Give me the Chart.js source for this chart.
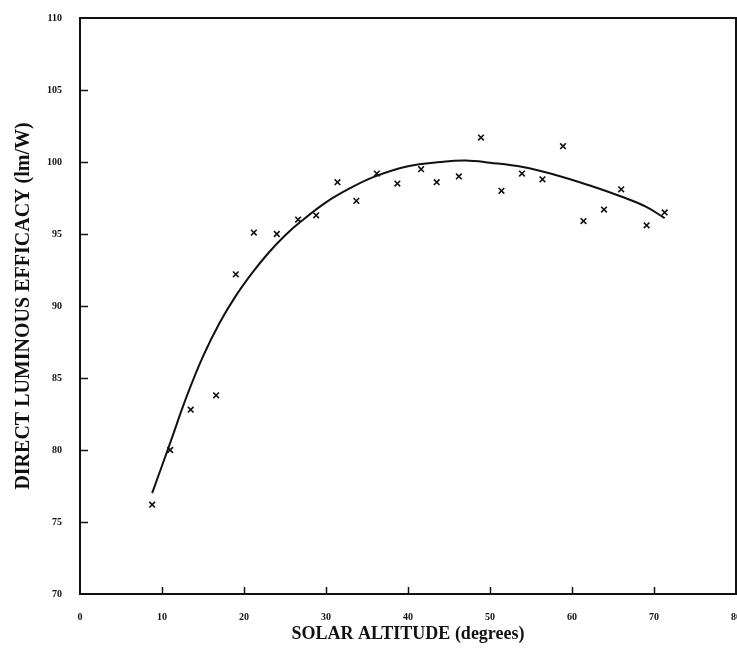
<!DOCTYPE html>
<html>
<head>
<meta charset="utf-8">
<script src="https://cdn.jsdelivr.net/npm/chart.js@4.4.1/dist/chart.umd.min.js"></script>
<style>
  html, body { margin: 0; padding: 0; background: #fff; }
  #wrap { width: 737px; height: 648px; }
</style>
</head>
<body>
<div id="wrap"><canvas id="chart"></canvas></div>
<script>
// measured points (solar altitude, efficacy)
const altitude = [8.8, 11.0, 13.5, 16.6, 19.0, 21.2, 24.0, 26.6, 28.8, 31.4, 33.7, 36.2, 38.7,
  41.6, 43.5, 46.2, 48.9, 51.4, 53.9, 56.4, 58.9, 61.4, 63.9, 66.0, 69.1, 71.3];
const efficacy = [76.2, 80.0, 82.8, 83.8, 92.2, 95.1, 95.0, 96.0, 96.3, 98.6, 97.3, 99.2, 98.5,
  99.5, 98.6, 99.0, 101.7, 98.0, 99.2, 98.8, 101.1, 95.9, 96.7, 98.1, 95.6, 96.5];

// fitted curve
const fitX = [8.8, 11, 13, 15, 17, 19, 21, 23, 25, 27, 30, 33, 36, 40, 44, 47,
  50, 54, 58, 62, 66, 69, 71.3];
const fitY = [77.0, 80.5, 83.7, 86.5, 88.8, 90.7, 92.3, 93.7, 94.9, 95.9, 97.2, 98.2, 99.0,
  99.7, 100.0, 100.1, 99.95, 99.65, 99.1, 98.4, 97.6, 96.9, 96.1];

const xTicks = [0, 10, 20, 30, 40, 50, 60, 70, 80];
const yTicks = [70, 75, 80, 85, 90, 95, 100, 105, 110];

const tickFont = { family: 'Liberation Serif', size: 10, weight: 'bold' };

// frame box + inward tick marks
const framePlugin = {
  id: 'frame',
  afterDraw(chart) {
    const { ctx, chartArea: a, scales } = chart;
    ctx.save();
    ctx.strokeStyle = '#111';
    ctx.lineWidth = 2;
    ctx.strokeRect(a.left, a.top, a.right - a.left, a.bottom - a.top);
    ctx.lineWidth = 1.5;
    ctx.beginPath();
    xTicks.slice(1, -1).forEach(v => {
      const px = Math.round(scales.x.getPixelForValue(v)) + 0.5;
      ctx.moveTo(px, a.bottom);
      ctx.lineTo(px, a.bottom - 7);
    });
    yTicks.slice(1, -1).forEach(v => {
      const py = Math.round(scales.y.getPixelForValue(v)) + 0.5;
      ctx.moveTo(a.left, py);
      ctx.lineTo(a.left + 8, py);
    });
    ctx.stroke();
    ctx.restore();
  }
};

new Chart(document.getElementById('chart'), {
  type: 'scatter',
  data: {
    datasets: [
      {
        label: 'measured',
        data: altitude.map((x, i) => ({ x: x, y: efficacy[i] })),
        pointStyle: 'crossRot',
        pointRadius: 4,
        borderColor: '#111',
        borderWidth: 1.6,
        showLine: false
      },
      {
        label: 'fit',
        data: fitX.map((x, i) => ({ x: x, y: fitY[i] })),
        showLine: true,
        borderColor: '#111',
        borderWidth: 2,
        pointRadius: 0,
        tension: 0.4
      }
    ]
  },
  options: {
    responsive: true,
    maintainAspectRatio: false,
    animation: false,
    layout: { autoPadding: false, padding: { top: 18, right: 1, left: 0, bottom: 0 } },
    plugins: { legend: { display: false }, tooltip: { enabled: false } },
    scales: {
      x: {
        type: 'linear',
        min: 0, max: 80,
        afterBuildTicks: s => { s.ticks = xTicks.map(v => ({ value: v })); },
        afterFit: s => { s.height = 54; s.paddingRight = 0; s.paddingLeft = 0; },
        grid: { display: false },
        border: { display: false },
        ticks: { color: '#111', font: tickFont, padding: 9, maxRotation: 0 },
        title: {
          display: true, text: 'SOLAR ALTITUDE (degrees)', color: '#111',
          font: { family: 'Liberation Serif', size: 18, weight: 'bold' },
          padding: { top: 0, bottom: 3 }
        }
      },
      y: {
        min: 70, max: 110,
        afterBuildTicks: s => { s.ticks = yTicks.map(v => ({ value: v })); },
        afterFit: s => { s.width = 80; },
        grid: { display: false },
        border: { display: false },
        ticks: { color: '#111', font: tickFont, padding: 10 },
        title: {
          display: true, text: 'DIRECT LUMINOUS EFFICACY (lm/W)', color: '#111',
          font: { family: 'Liberation Serif', size: 20, weight: 'bold' },
          padding: { top: 12, bottom: 0 }
        }
      }
    }
  },
  plugins: [framePlugin]
});
</script>
</body>
</html>
